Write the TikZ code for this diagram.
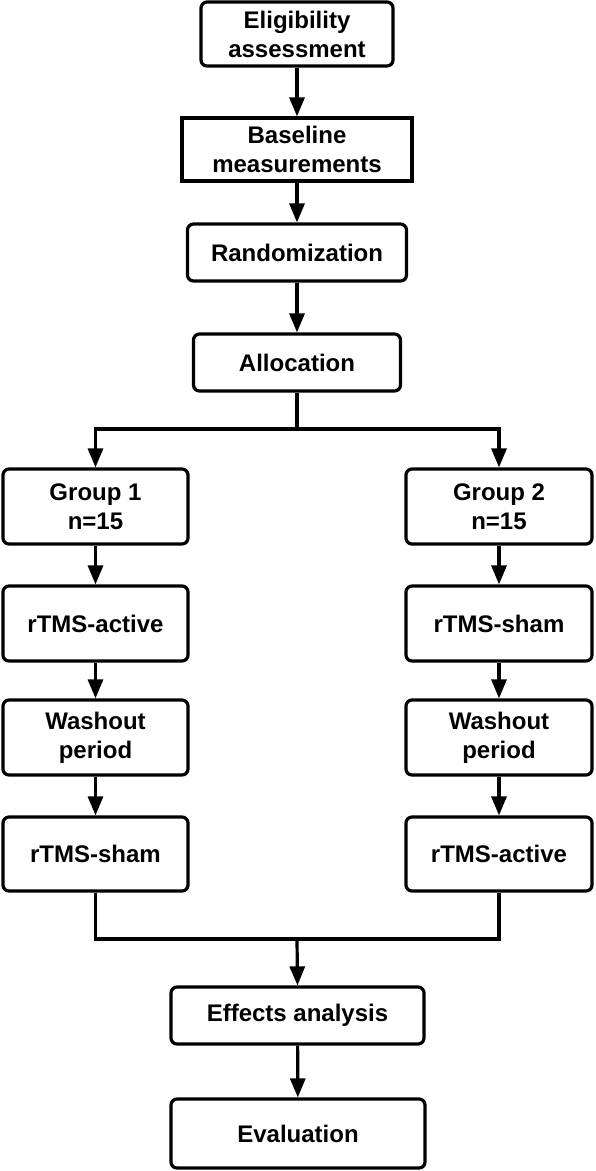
\documentclass[tikz,border=0pt]{standalone}
\usepackage{fontspec}
\setmainfont{Liberation Sans}
\usetikzlibrary{arrows.meta}
\begin{document}
\begin{tikzpicture}[x=1pt,y=1pt,
  box/.style={draw=black, line width=3.2pt, rounded corners=6pt, inner sep=0pt,
    align=center, font=\bfseries\fontsize{24}{29}\selectfont, fill=white},
  sqbox/.style={box, rounded corners=0pt},
  conn/.style={line width=3.2pt, -{Triangle[width=15pt,length=19pt]}},
  line/.style={line width=3.2pt}]
\useasboundingbox (0,0) rectangle (595,-1171);
\node[box, minimum width=192pt, minimum height=64pt] (elig) at (297,-34) {Eligibility\\assessment};
\node[sqbox, minimum width=230pt, minimum height=63pt] (base) at (297,-149.5) {Baseline\\measurements};
\node[box, minimum width=219pt, minimum height=57pt] (rand) at (297,-252.5) {Randomization};
\node[box, minimum width=207pt, minimum height=57pt] (alloc) at (297,-362.5) {Allocation};
\node[box, minimum width=185pt, minimum height=75pt] (g1) at (95.5,-506.5) {Group 1\\n=15};
\node[box, minimum width=186pt, minimum height=75pt] (g2) at (499,-506.5) {Group 2\\n=15};
\node[box, minimum width=185pt, minimum height=75pt] (a1) at (95.5,-623.5) {rTMS-active};
\node[box, minimum width=186pt, minimum height=75pt] (a2) at (499,-623.5) {rTMS-sham};
\node[box, minimum width=185pt, minimum height=75pt] (w1) at (95.5,-737.5) {Washout\\period};
\node[box, minimum width=186pt, minimum height=75pt] (w2) at (499,-737.5) {Washout\\period};
\node[box, minimum width=185pt, minimum height=74pt] (s1) at (95.5,-854) {rTMS-sham};
\node[box, minimum width=186pt, minimum height=74pt] (s2) at (499,-854) {rTMS-active};
\node[box, minimum width=253pt, minimum height=57pt] (eff) at (297.5,-1015.5) {Effects analysis};
\node[box, minimum width=254pt, minimum height=69pt] (eval) at (298,-1133.5) {Evaluation};
\coordinate (split) at (297,-429);
\coordinate (merge) at (297,-939);
\draw[conn] (elig) -- (base);
\draw[conn] (base) -- (rand);
\draw[conn] (rand) -- (alloc);
\draw[line] (alloc.south) -- (split);
\draw[conn] (split) -| (g1.north);
\draw[conn] (split) -| (g2.north);
\draw[conn] (g1) -- (a1);
\draw[conn] (a1) -- (w1);
\draw[conn] (w1) -- (s1);
\draw[conn] (g2) -- (a2);
\draw[conn] (a2) -- (w2);
\draw[conn] (w2) -- (s2);
\draw[line] (s1.south) |- (merge) -| (s2.south);
\draw[conn] (merge) -- (eff.north);
\draw[conn] (eff) -- (eval);
\end{tikzpicture}
\end{document}
